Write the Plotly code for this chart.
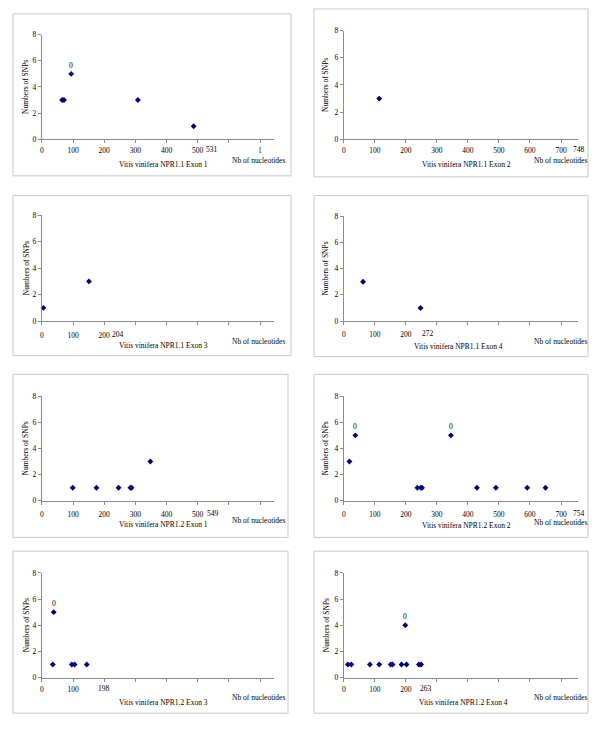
import plotly.graph_objects as go

W, H = 600, 731

exon_titles = [
    "Vitis vinifera NPR1.1 Exon 1", "Vitis vinifera NPR1.1 Exon 2",
    "Vitis vinifera NPR1.1 Exon 3", "Vitis vinifera NPR1.1 Exon 4",
    "Vitis vinifera NPR1.2 Exon 1", "Vitis vinifera NPR1.2 Exon 2",
    "Vitis vinifera NPR1.2 Exon 3", "Vitis vinifera NPR1.2 Exon 4",
]
exon_lengths = [531, 748, 204, 272, 549, 754, 198, 263]

pos_1 = [65, 71, 94, 308, 487]
snp_1 = [3, 3, 5, 3, 1]
pos_2 = [114]
snp_2 = [3]
pos_3 = [5, 151]
snp_3 = [1, 3]
pos_4 = [62, 247]
snp_4 = [3, 1]
pos_5 = [99, 175, 246, 284, 288, 348]
snp_5 = [1, 1, 1, 1, 1, 3]
pos_6 = [18, 37, 237, 248, 252, 345, 429, 490, 591, 650]
snp_6 = [3, 5, 1, 1, 1, 5, 1, 1, 1, 1]
pos_7 = [35, 38, 96, 105, 144]
snp_7 = [1, 5, 1, 1, 1]
pos_8 = [13, 24, 84, 114, 151, 157, 186, 198, 202, 242, 249]
snp_8 = [1, 1, 1, 1, 1, 1, 1, 4, 1, 1, 1]

# indices of points carrying the "0" data label
labelled_1 = [2]
labelled_2 = []
labelled_3 = []
labelled_4 = []
labelled_5 = []
labelled_6 = [1, 5]
labelled_7 = [1]
labelled_8 = [7]

x_tickvals = [0, 100, 200, 300, 400, 500, 600, 700]
ticktext_1 = ["0", "100", "200", "300", "400", "500", "", "l"]
ticktext_2 = ["0", "100", "200", "300", "400", "500", "600", "700"]
ticktext_3 = ["0", "100", "200", "", "", "", "", ""]
ticktext_4 = ["0", "100", "200", "", "", "", "", ""]
ticktext_5 = ["0", "100", "200", "300", "400", "500", "", ""]
ticktext_6 = ["0", "100", "200", "300", "400", "500", "600", "700"]
ticktext_7 = ["0", "100", "", "", "", "", "", ""]
ticktext_8 = ["0", "100", "200", "", "", "", "", ""]
y_tickvals = [0, 2, 4, 6, 8]

positions = [pos_1, pos_2, pos_3, pos_4, pos_5, pos_6, pos_7, pos_8]
snps = [snp_1, snp_2, snp_3, snp_4, snp_5, snp_6, snp_7, snp_8]
labelled = [labelled_1, labelled_2, labelled_3, labelled_4,
            labelled_5, labelled_6, labelled_7, labelled_8]
ticktexts = [ticktext_1, ticktext_2, ticktext_3, ticktext_4,
             ticktext_5, ticktext_6, ticktext_7, ticktext_8]

# layout geometry (pixels)
boxes = [(11, 10, 290, 174), (313, 5, 588, 175),
         (11, 194, 290, 356), (313, 194, 588, 357),
         (11, 375, 287, 540), (313, 375, 588, 540),
         (11, 554, 287, 718), (313, 554, 588, 718)]
plot_x = [(40, 273, 745), (343, 578, 755)] * 4
plot_y = [(31, 137), (27, 137), (214, 321), (215, 321),
          (397, 503), (397, 503), (576, 682), (576, 682)]
title_pos = [(162, 162), (466, 162), (162, 346), (458, 347),
             (162, 527), (466, 528), (162, 707), (463, 707)]
nb_pos = [(257, 158), (560, 158), (257, 342), (560, 342),
          (257, 523), (560, 525), (257, 702), (560, 702)]
yt_x = [24, 325, 24, 325, 24, 325, 24, 325]
label_shift = [5, 3, 13, 0, 0, 1, 0, 1]
standoff = [1, 1, 4, 3, 3, 3, 1, 1]

FONT = "Liberation Serif, Times New Roman, serif"
FS = 7.5
AXC = "#8c8c8c"
NAVY = "#000080"

def px(x):
    return x / W

def py(y):
    return 1 - y / H

fig = go.Figure()
annotations = []
shapes = []

for i in range(8):
    n = i + 1
    xa = "x" if n == 1 else f"x{n}"
    ya = "y" if n == 1 else f"y{n}"
    xk = "xaxis" if n == 1 else f"xaxis{n}"
    yk = "yaxis" if n == 1 else f"yaxis{n}"
    x0, x1, xmax = plot_x[i]
    ytop, ybot = plot_y[i]

    fig.add_trace(go.Scatter(
        x=positions[i], y=snps[i], mode="markers",
        marker=dict(symbol="diamond", size=4.5, color=NAVY),
        xaxis=xa, yaxis=ya, cliponaxis=False, showlegend=False,
        hoverinfo="x+y"))

    fig.update_layout(**{
        xk: dict(domain=[px(x0), px(x1)], range=[0, xmax], anchor=ya,
                 tickvals=x_tickvals, ticktext=ticktexts[i],
                 showline=True, linecolor=AXC, linewidth=1,
                 ticks="outside", ticklen=3, tickcolor=AXC,
                 showgrid=False, zeroline=False,
                 ticklabelstandoff=standoff[i],
                 tickfont=dict(family=FONT, size=FS, color="black")),
        yk: dict(domain=[py(ybot), py(ytop)], range=[0, 8], anchor=xa,
                 tickvals=y_tickvals,
                 showline=True, linecolor=AXC, linewidth=1,
                 ticks="outside", ticklen=3, tickcolor=AXC,
                 showgrid=False, zeroline=False,
                 tickfont=dict(family=FONT, size=FS, color="black")),
    })

    # panel frame
    bx0, by0, bx1, by1 = boxes[i]
    shapes.append(dict(type="rect", xref="paper", yref="paper",
                       x0=px(bx0), x1=px(bx1), y0=py(by1), y1=py(by0),
                       line=dict(color="#c8c8c8", width=1)))

    # exon length label on the x axis
    annotations.append(dict(
        x=exon_lengths[i], xref=xa, y=py(ybot), yref="paper",
        text=str(exon_lengths[i]), showarrow=False, xanchor="center",
        yanchor="top", yshift=-3 - standoff[i], xshift=label_shift[i],
        font=dict(family=FONT, size=FS, color="black")))

    # data labels "0"
    for j in labelled[i]:
        annotations.append(dict(
            x=positions[i][j], y=snps[i][j], xref=xa, yref=ya,
            text="0", showarrow=False, yanchor="bottom", yshift=2,
            font=dict(family=FONT, size=FS, color="black")))

    # axis titles
    tx, ty = title_pos[i]
    annotations.append(dict(
        x=px(tx), y=py(ty), xref="paper", yref="paper",
        text=exon_titles[i], showarrow=False, xanchor="center",
        yanchor="middle", font=dict(family=FONT, size=FS, color="black")))
    nx, ny = nb_pos[i]
    annotations.append(dict(
        x=px(nx), y=py(ny), xref="paper", yref="paper",
        text="Nb of nucleotides", showarrow=False, xanchor="center",
        yanchor="middle", font=dict(family=FONT, size=FS, color="black")))
    annotations.append(dict(
        x=px(yt_x[i]), y=py((ytop + ybot) / 2),
        xref="paper", yref="paper", text="Numbers of SNPs", textangle=-90,
        showarrow=False, xanchor="center", yanchor="middle",
        font=dict(family=FONT, size=FS, color="black")))

fig.update_layout(
    width=W, height=H, margin=dict(l=0, r=0, t=0, b=0),
    paper_bgcolor="white", plot_bgcolor="white",
    annotations=annotations, shapes=shapes, showlegend=False)

fig.write_html(
    "out.html",
    config={"displayModeBar": False},
    post_script="document.body.style.margin='0';"
                "document.body.style.overflow='hidden';")
